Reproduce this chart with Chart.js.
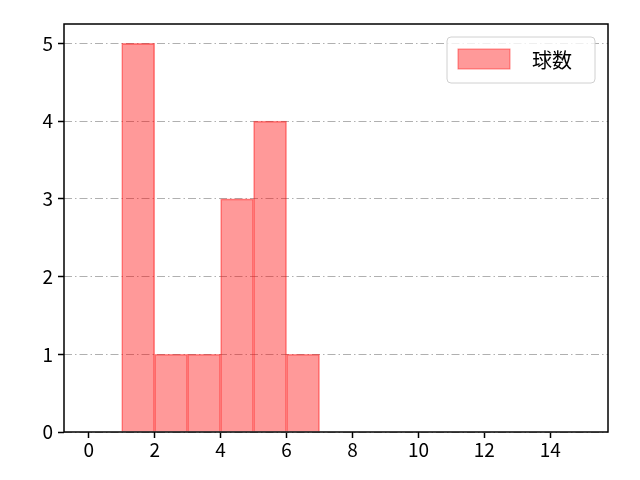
<!DOCTYPE html>
<html>
<head>
<meta charset="utf-8">
<script src="https://cdn.jsdelivr.net/npm/chart.js@4/dist/chart.umd.min.js"></script>
<style>
  html, body { margin: 0; padding: 0; background: #fff; }
  #wrap { width: 640px; height: 480px; }
</style>
</head>
<body>
<div id="wrap"><canvas id="histChart" width="640" height="480"></canvas></div>
<script>
const seriesLabel = "球数";
const binEdges = [1, 2, 3, 4, 5, 6, 7];
const counts = [5, 1, 1, 3, 4, 1];
const xTicks = [0, 2, 4, 6, 8, 10, 12, 14];
const yTicks = [0, 1, 2, 3, 4, 5];

const FONT = "'Noto Sans CJK JP', 'Noto Sans', sans-serif";

const points = counts.map((c, i) => ({ x: (binEdges[i] + binEdges[i + 1]) / 2, y: c }));

const frameAndLegend = {
  id: "frameAndLegend",
  afterDraw(chart) {
    const { ctx, chartArea: a } = chart;
    ctx.save();
    ctx.strokeStyle = "#000";
    ctx.lineWidth = 1.5;
    ctx.strokeRect(a.left, a.top, a.right - a.left, a.bottom - a.top);

    // legend box
    const bx = 447, by = 37, bw = 148, bh = 46, r = 4;
    ctx.beginPath();
    ctx.moveTo(bx + r, by);
    ctx.arcTo(bx + bw, by, bx + bw, by + bh, r);
    ctx.arcTo(bx + bw, by + bh, bx, by + bh, r);
    ctx.arcTo(bx, by + bh, bx, by, r);
    ctx.arcTo(bx, by, bx + bw, by, r);
    ctx.closePath();
    ctx.fillStyle = "rgba(255,255,255,0.8)";
    ctx.fill();
    ctx.strokeStyle = "#d0d0d0";
    ctx.lineWidth = 1;
    ctx.stroke();

    const ds = chart.data.datasets[0];
    ctx.fillStyle = ds.backgroundColor;
    ctx.fillRect(458, 49, 52, 20);
    ctx.strokeStyle = ds.borderColor;
    ctx.strokeRect(458, 49, 52, 20);

    ctx.fillStyle = "#000";
    ctx.font = "20px " + FONT;
    ctx.textBaseline = "middle";
    ctx.fillText(ds.label, 532, 60);
    ctx.restore();
  }
};

new Chart(document.getElementById("histChart"), {
  type: "bar",
  data: {
    datasets: [
      {
        label: seriesLabel,
        data: points,
        backgroundColor: "rgba(255, 0, 0, 0.4)",
        borderColor: "rgba(255, 0, 0, 0.45)",
        borderWidth: 1,
        barPercentage: 1,
        categoryPercentage: 1,
      },
    ],
  },
  options: {
    responsive: false,
    animation: false,
    layout: { padding: { left: 0, right: 32, top: 24, bottom: 0 } },
    plugins: {
      legend: { display: false },
      tooltip: { enabled: false },
    },
    scales: {
      x: {
        type: "linear",
        offset: false,
        min: -0.75,
        max: 15.75,
        afterBuildTicks: (s) => { s.ticks = xTicks.map((v) => ({ value: v })); },
        afterFit: (s) => { s.height = 48; },
        grid: { offset: false, drawOnChartArea: false, drawTicks: true, tickLength: 6, tickColor: "#000", tickWidth: 1.5 },
        border: { display: false },
        ticks: { color: "#000", font: { family: FONT, size: 19 }, padding: 0, maxRotation: 0, autoSkip: false },
      },
      y: {
        min: 0,
        max: 5.25,
        z: 1,
        afterBuildTicks: (s) => { s.ticks = yTicks.map((v) => ({ value: v })); },
        afterFit: (s) => { s.width = 64; },
        grid: {
          color: "#b0b0b0",
          lineWidth: 1,
          tickLength: 6,
          tickColor: "#000",
          tickWidth: 1.5,
          tickBorderDash: [],
        },
        border: { display: false, dash: [8, 3, 1.5, 3] },
        ticks: { color: "#000", font: { family: FONT, size: 19 }, padding: 5, autoSkip: false },
      },
    },
  },
  plugins: [frameAndLegend],
});
</script>
</body>
</html>
